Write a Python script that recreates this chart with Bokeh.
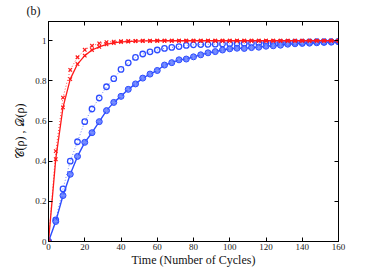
from bokeh.plotting import figure
from bokeh.embed import file_html
from bokeh.resources import INLINE
from bokeh.models import (LinearAxis, FixedTicker, CustomJSTickFormatter, Range1d,
                          CustomLabelingPolicy)

cycles = list(range(0, 161, 4))

red_upper = [0, 0.45, 0.717, 0.855, 0.918, 0.955, 0.975, 0.987, 0.993, 0.996,
             0.998, 0.999, 0.999, 1.0, 1.0, 1.0, 1.0, 1.0, 1.0, 1.0,
             1.0, 1.0, 1.0, 1.0, 1.0, 1.0, 1.0, 1.0, 1.0, 1.0,
             1.0, 1.0, 1.0, 1.0, 1.0, 1.0, 1.0, 1.0, 1.0, 1.0, 1.0]
red_lower = [0, 0.41, 0.668, 0.809, 0.884, 0.926, 0.954, 0.970, 0.982, 0.989,
             0.994, 0.996, 0.998, 0.999, 0.999, 1.0, 1.0, 1.0, 1.0, 1.0,
             1.0, 1.0, 1.0, 1.0, 1.0, 1.0, 1.0, 1.0, 1.0, 1.0,
             1.0, 1.0, 1.0, 1.0, 1.0, 1.0, 1.0, 1.0, 1.0, 1.0, 1.0]
blue_open = [0, 0.108, 0.262, 0.40, 0.497, 0.597, 0.66, 0.715, 0.771, 0.811,
             0.857, 0.89, 0.917, 0.934, 0.945, 0.954, 0.962, 0.967, 0.971, 0.977,
             0.980, 0.981, 0.982, 0.983, 0.984, 0.985, 0.986, 0.987, 0.988, 0.989,
             0.990, 0.990, 0.991, 0.992, 0.993, 0.993, 0.994, 0.995, 0.995, 0.996, 0.997]
blue_filled = [0, 0.10, 0.229, 0.335, 0.424, 0.494, 0.542, 0.597, 0.652, 0.693,
               0.723, 0.758, 0.785, 0.814, 0.834, 0.852, 0.879, 0.891, 0.905, 0.909,
               0.92, 0.93, 0.94, 0.946, 0.954, 0.96, 0.963, 0.962, 0.966, 0.968,
               0.973, 0.975, 0.978, 0.983, 0.985, 0.987, 0.988, 0.99, 0.992, 0.993, 0.995]

x_ticks = [0, 20, 40, 60, 80, 100, 120, 140, 160]
y_ticks = [0, 0.2, 0.4, 0.6, 0.8, 1.0]

RED = "#ff1a1a"
BLUE = "#2e4dff"
FONT = "Liberation Serif"

p = figure(width=374, height=271, output_backend="svg", toolbar_location=None,
           x_range=Range1d(0, 160), y_range=Range1d(0, 1.096),
           min_border_left=48, min_border_right=36, min_border_top=21, min_border_bottom=30,
           title="(b)")

p.title.align = "left"
p.title.offset = -22
p.title.standoff = 0
p.title.text_font = FONT
p.title.text_font_style = "normal"
p.title.text_font_size = "12px"
p.title.text_color = "#111111"
p.title.vertical_align = "bottom"

p.background_fill_color = "white"
p.border_fill_color = "white"
p.outline_line_color = "black"
p.outline_line_width = 1
p.grid.visible = False

fmt = CustomJSTickFormatter(code="var s = tick.toFixed(1); return s.endsWith('.0') ? s.slice(0, -2) : s;")

for ax in p.xaxis:
    ax.ticker = FixedTicker(ticks=x_ticks)
for ax in p.yaxis:
    ax.ticker = FixedTicker(ticks=y_ticks)
    ax.formatter = fmt

for ax in list(p.xaxis) + list(p.yaxis):
    ax.major_tick_in = 4
    ax.major_tick_out = 0
    ax.minor_tick_in = 0
    ax.minor_tick_out = 0
    ax.axis_line_color = "black"
    ax.major_label_text_font = FONT
    ax.major_label_text_font_size = "9px"
    ax.major_label_text_color = "#222222"
    ax.axis_label_text_font = FONT
    ax.axis_label_text_font_style = "normal"
    ax.axis_label_text_color = "#111111"
    ax.major_label_standoff = 2

p.xaxis.axis_label = "Time (Number of Cycles)"
p.xaxis.axis_label_text_font_size = "12px"
p.xaxis.axis_label_standoff = 0
p.yaxis.axis_label = "\U0001D49E(\u03c1) , \U0001D49F(\u03c1)"
p.yaxis.axis_label_text_font_size = "12px"
p.yaxis.axis_label_standoff = 5

top = LinearAxis(ticker=FixedTicker(ticks=x_ticks),
                 major_label_policy=CustomLabelingPolicy(code="return new Set()"),
                 major_label_text_font_size="1px",
                 major_tick_in=4, major_tick_out=0, minor_tick_in=0, minor_tick_out=0,
                 major_label_standoff=0)
right = LinearAxis(ticker=FixedTicker(ticks=y_ticks),
                   major_label_policy=CustomLabelingPolicy(code="return new Set()"),
                   major_label_text_font_size="1px",
                   major_tick_in=4, major_tick_out=0, minor_tick_in=0, minor_tick_out=0,
                   major_label_standoff=0)
p.add_layout(top, "above")
p.add_layout(right, "right")

# blue dotted with open circles
p.line(cycles, blue_open, line_color=BLUE, line_width=1, line_dash="1 2", line_alpha=0.7)
p.scatter(cycles, blue_open, marker="circle", size=5.5, line_color=BLUE, line_width=1.3,
          fill_color=None)

# blue solid with filled circles
p.line(cycles, blue_filled, line_color=BLUE, line_width=1.4)
p.scatter(cycles, blue_filled, marker="circle", size=6, line_color=BLUE, line_width=1,
          fill_color=BLUE, fill_alpha=0.75)
p.scatter(cycles, blue_filled, marker="asterisk", size=5, line_color="#7f95ff", line_width=0.8)

# red dotted with x markers
p.line(cycles, red_upper, line_color=RED, line_width=1, line_dash="1 2", line_alpha=0.8)
p.scatter(cycles, red_upper, marker="x", size=5, line_color=RED, line_width=1.2)

# red solid with x markers
p.line(cycles, red_lower, line_color=RED, line_width=1.3)
p.scatter(cycles, red_lower, marker="x", size=5, line_color=RED, line_width=1.2)

open("out.html", "w").write(file_html(p, INLINE))
